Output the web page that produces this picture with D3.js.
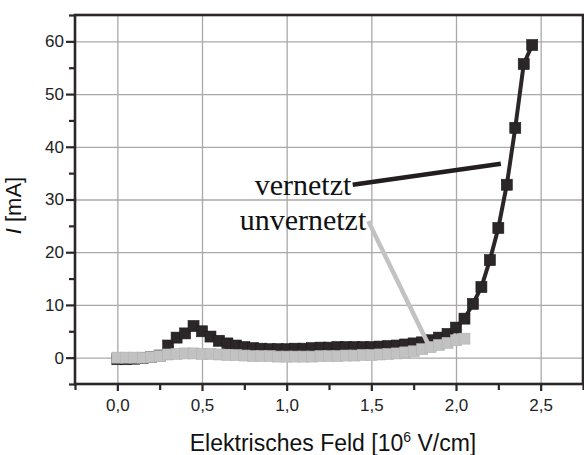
<!DOCTYPE html>
<html>
<head>
<meta charset="utf-8">
<script src="https://cdn.jsdelivr.net/npm/d3@7"></script>
<style>
  body { margin: 0; background: #fff; }
  .tick text { font-family: "Liberation Sans", Arial, sans-serif; font-size: 17px; fill: #222; }
</style>
</head>
<body>
<div id="chart"></div>
<script>

// vernetzt (black) : field [10^6 V/cm] and current [mA]
var fieldVernetzt = [0, 0.05, 0.1, 0.15, 0.2, 0.25, 0.3, 0.35, 0.4, 0.45, 0.5, 0.55, 0.6, 0.65, 0.7, 0.75,
  0.8, 0.85, 0.9, 0.95, 1.0, 1.05, 1.1, 1.15, 1.2, 1.25, 1.3, 1.35, 1.4, 1.45, 1.5, 1.55, 1.6, 1.65,
  1.7, 1.75, 1.8, 1.85, 1.9, 1.95, 2.0, 2.05, 2.1, 2.15, 2.2, 2.25, 2.3, 2.35, 2.4, 2.45];
var currentVernetzt = [-0.3, -0.3, -0.2, -0.1, 0.1, 0.4, 2.3, 3.8, 4.6, 6.0, 5.0, 4.0, 3.2, 2.7, 2.3, 2.0,
  1.8, 1.7, 1.6, 1.6, 1.6, 1.7, 1.7, 1.8, 1.9, 1.9, 2.0, 2.0, 2.0, 2.0, 2.0, 2.1, 2.2, 2.3,
  2.5, 2.7, 2.9, 3.3, 3.8, 4.5, 5.7, 7.4, 10.2, 13.4, 18.5, 24.6, 32.8, 43.6, 55.7, 59.3];

// unvernetzt (grey)
var fieldUnvernetzt = [0, 0.05, 0.1, 0.15, 0.2, 0.25, 0.3, 0.35, 0.4, 0.45, 0.5, 0.55, 0.6, 0.65, 0.7, 0.75,
  0.8, 0.85, 0.9, 0.95, 1.0, 1.05, 1.1, 1.15, 1.2, 1.25, 1.3, 1.35, 1.4, 1.45, 1.5, 1.55, 1.6, 1.65,
  1.7, 1.75, 1.8, 1.85, 1.9, 1.95, 2.0, 2.05];
var currentUnvernetzt = [0, 0, 0, 0, 0.1, 0.3, 0.6, 0.7, 0.8, 0.8, 0.7, 0.7, 0.6, 0.5, 0.5, 0.4,
  0.3, 0.3, 0.3, 0.2, 0.2, 0.2, 0.2, 0.2, 0.3, 0.3, 0.3, 0.4, 0.4, 0.5, 0.5, 0.6, 0.7, 0.8,
  1.0, 1.2, 1.6, 2.0, 2.4, 2.8, 3.3, 3.6];

var xMajor = [0, 0.5, 1.0, 1.5, 2.0, 2.5];
var xMinor = [-0.25, 0.25, 0.75, 1.25, 1.75, 2.25, 2.75];
var yMajor = [0, 10, 20, 30, 40, 50, 60];
var yMinor = [-5, 5, 15, 25, 35, 45, 55, 65];

// annotations: label, text anchor point, leader line start / end (data units)
var labels = ["vernetzt", "unvernetzt"];
var labelPos = [[1.382, 30.8], [1.47, 24.3]];
var leaderFrom = [[1.39, 32.8], [1.482, 25.9]];
var leaderTo = [[2.265, 36.8], [1.84, 2.3]];

var margin = { top: 15, right: 1, bottom: 71, left: 75 };
var width = 584 - margin.left - margin.right,
    height = 455 - margin.top - margin.bottom;

var svg = d3.select("#chart").append("svg")
    .attr("width", 584)
    .attr("height", 455)
  .append("g")
    .attr("transform", "translate(" + margin.left + "," + margin.top + ")");

var x = d3.scaleLinear().domain([-0.25, 2.75]).range([0, width]);
var y = d3.scaleLinear().domain([-5, 65]).range([height, 0]);

var fmt = function(d) { return d3.format(".1f")(d).replace(".", ","); };

// grid
svg.append("g")
    .attr("class", "grid")
    .attr("transform", "translate(0," + height + ")")
    .call(d3.axisBottom(x).tickValues(xMajor).tickSize(-height).tickFormat(""))
    .call(function(g) { g.select(".domain").remove(); })
    .selectAll("line").attr("stroke", "#a9a9a9").attr("stroke-width", 1.3);

svg.append("g")
    .attr("class", "grid")
    .call(d3.axisLeft(y).tickValues(yMajor).tickSize(-width).tickFormat(""))
    .call(function(g) { g.select(".domain").remove(); })
    .selectAll("line").attr("stroke", "#a9a9a9").attr("stroke-width", 1.3);

// axes
var xAxisG = svg.append("g")
    .attr("transform", "translate(0," + height + ")");
xAxisG.append("g")
    .call(d3.axisBottom(x).tickValues(xMinor).tickSize(6).tickFormat(""));
xAxisG.append("g")
    .call(d3.axisBottom(x).tickValues(xMajor).tickSize(7).tickPadding(8).tickFormat(fmt));

var yAxisG = svg.append("g");
yAxisG.append("g")
    .call(d3.axisLeft(y).tickValues(yMinor).tickSize(6).tickFormat(""));
yAxisG.append("g")
    .call(d3.axisLeft(y).tickValues(yMajor).tickSize(9).tickPadding(2));

svg.selectAll(".domain").remove();
svg.selectAll(".tick line").filter(function() { return this.parentNode.parentNode.getAttribute("class") !== "grid"; })
    .attr("stroke", "#2b2727").attr("stroke-width", 2.2);

// frame
svg.append("rect")
    .attr("width", width)
    .attr("height", height)
    .attr("fill", "none")
    .attr("stroke", "#2b2727")
    .attr("stroke-width", 2.6);

// series
var line = d3.line()
    .x(function(d) { return x(d[0]); })
    .y(function(d) { return y(d[1]); });

var dataV = d3.zip(fieldVernetzt, currentVernetzt);
var dataU = d3.zip(fieldUnvernetzt, currentUnvernetzt);

function drawSeries(data, color, stroke) {
  svg.append("path")
      .datum(data)
      .attr("fill", "none")
      .attr("stroke", color)
      .attr("stroke-width", 4)
      .attr("d", line);
  svg.append("g").selectAll("rect")
      .data(data)
    .enter().append("rect")
      .attr("x", function(d) { return x(d[0]) - 5.5; })
      .attr("y", function(d) { return y(d[1]) - 5.5; })
      .attr("width", 11)
      .attr("height", 11)
      .attr("fill", color)
      .attr("stroke", stroke)
      .attr("stroke-width", 0.6);
}

drawSeries(dataV, "#2b2627", "#1e1a1b");
drawSeries(dataU, "#c2c2c2", "#b3b3b3");

// annotations
var leaderColors = ["#221e1f", "#c2c2c2"];
labels.forEach(function(t, i) {
  svg.append("line")
      .attr("x1", x(leaderFrom[i][0]))
      .attr("y1", y(leaderFrom[i][1]))
      .attr("x2", x(leaderTo[i][0]))
      .attr("y2", y(leaderTo[i][1]))
      .attr("stroke", leaderColors[i])
      .attr("stroke-width", 4.5);
  svg.append("text")
      .attr("x", x(labelPos[i][0]))
      .attr("y", y(labelPos[i][1]))
      .attr("text-anchor", "end")
      .style("font-family", "'Liberation Serif', 'Times New Roman', serif")
      .style("font-size", "30px")
      .attr("fill", "#111")
      .text(t);
});

// axis titles
var xt = svg.append("text")
    .attr("x", width / 2 + 4)
    .attr("y", height + 67)
    .attr("text-anchor", "middle")
    .style("font-family", "'Liberation Sans', Arial, sans-serif")
    .style("font-size", "23px")
    .attr("fill", "#111");
xt.append("tspan").text("Elektrisches Feld [10");
xt.append("tspan").attr("dy", -9).style("font-size", "14px").text("6");
xt.append("tspan").attr("dy", 9).text(" V/cm]");

var yt = svg.append("text")
    .attr("transform", "translate(" + (-54) + "," + (height / 2 + 6) + ") rotate(-90)")
    .attr("text-anchor", "middle")
    .style("font-family", "'Liberation Sans', Arial, sans-serif")
    .style("font-size", "22px")
    .attr("fill", "#111");
yt.append("tspan").style("font-style", "italic").text("I");
yt.append("tspan").text(" [mA]");

</script>
</body>
</html>
